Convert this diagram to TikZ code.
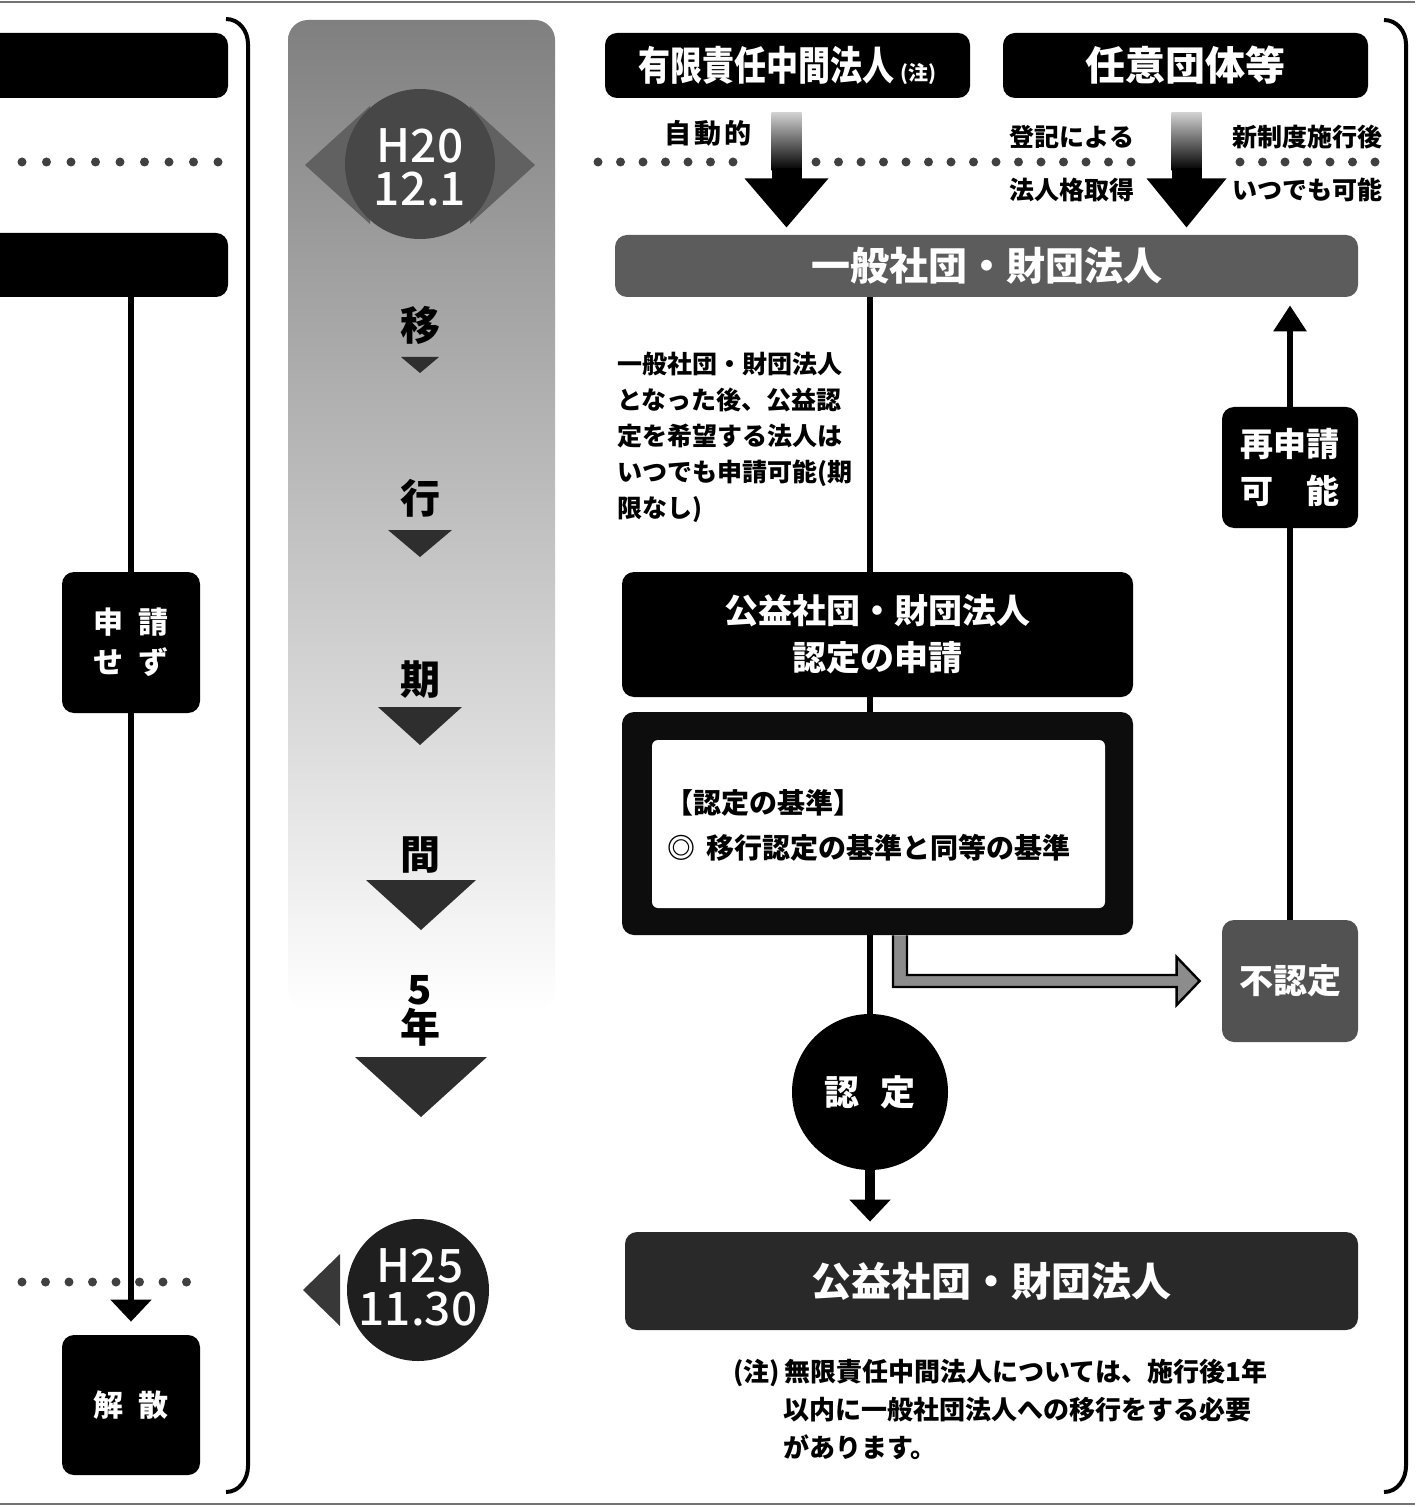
\documentclass[tikz,border=0pt]{standalone}
\usepackage{fontspec}
\usepackage{graphicx}
\setmainfont{Noto Sans CJK JP}
\newfontfamily\jpmed{Noto Sans CJK JP Medium}
\usetikzlibrary{arrows.meta,calc,backgrounds}
\begin{document}
\begin{tikzpicture}[x=0.5pt,y=-0.5pt,
  box/.style={rounded corners=6pt, inner sep=0pt, text=white, align=center},
  conn/.style={line width=3pt, black},
  dotc/.style={fill=black!75},
  lbl/.style={font=\bfseries\fontsize{12.5pt}{15pt}\selectfont, inner sep=0pt},
  midc/.style={font=\bfseries\fontsize{20pt}{22pt}\selectfont, inner sep=0pt},
  datec/.style={text=white, inner sep=0pt, font=\jpmed\fontsize{23pt}{23pt}\selectfont},
  tri/.style={fill=black!82},
  bracket/.style={line width=2pt, black},
]
\useasboundingbox (0,0) rectangle (1415,1507);

% ---------- left column ----------
\node[box, fill=black, minimum width=129pt, minimum height=32.5pt] (lb1) at (99,65.5) {};
\node[box, fill=black, minimum width=129pt, minimum height=32pt] (lb2) at (99,265) {};
\node[box, fill=black, minimum width=69pt, minimum height=70.5pt,
      font=\bfseries\fontsize{15pt}{20pt}\selectfont] (sezu) at (131,642.5) {申\hspace{0.5em}請\\せ\hspace{0.5em}ず};
\node[box, fill=black, minimum width=69pt, minimum height=70pt,
      font=\bfseries\fontsize{15pt}{20pt}\selectfont] (kaisan) at (131,1405) {解\hspace{0.5em}散};

% ---------- middle column ----------
\fill[black!62] (305,165) -- (370,106) -- (370,224) -- cycle;
\fill[black!62] (535,165) -- (470,106) -- (470,224) -- cycle;
\node[circle, fill=black!72, minimum size=75pt, inner sep=0pt] (h20) at (420,164) {};
\node[datec] (h20a) at (420,146) {H20};
\node[datec] (h20b) at (420,189) {12.1};

\node[midc] (m1) at (420,325) {移};
\fill[tri] (401,357) -- (439,357) -- (420,373) -- cycle;
\node[midc] (m2) at (420,498) {行};
\fill[tri] (388,530) -- (452,530) -- (420,557) -- cycle;
\node[midc] (m3) at (420,680) {期};
\fill[tri] (378,707) -- (462,707) -- (420,745) -- cycle;
\node[midc] (m4) at (420,855) {間};
\fill[tri] (366,880) -- (476,880) -- (421,930) -- cycle;
\node[midc] (m5) at (420,990) {5};
\node[midc] (m6) at (420,1027) {年};
\fill[tri] (355,1057) -- (487,1057) -- (421,1117) -- cycle;

\fill[black!78] (303,1290) -- (340,1254) -- (340,1326) -- cycle;
\node[circle, fill=black!88, minimum size=71pt, inner sep=0pt] (h25) at (418,1290) {};
\node[datec] (h25a) at (420,1266) {H25};
\node[datec] (h25b) at (418,1309) {11.30};

% ---------- right column ----------
\node[box, fill=black, minimum width=182.5pt, minimum height=32.5pt,
      font=\bfseries\fontsize{20pt}{22pt}\selectfont] (yugen) at (787.5,65.5)
      {\scalebox{0.8}[1]{有限責任中間法人}\,{\fontsize{10pt}{10pt}\selectfont (注)}};
\node[box, fill=black, minimum width=182.5pt, minimum height=32.5pt,
      font=\bfseries\fontsize{20pt}{22pt}\selectfont] (nini) at (1185.5,65.5) {任意団体等};

\node[lbl, anchor=east, font=\bfseries\fontsize{13.5pt}{15pt}\selectfont] (jido) at (752,133) {自\hspace{0.12em}動\hspace{0.12em}的};
\node[lbl] (toki) at (1072,137) {登記による};
\node[lbl] (hojin) at (1072,190) {法人格取得};
\node[lbl] (shin) at (1307,137) {新制度施行後};
\node[lbl] (itsu) at (1307,190) {いつでも可能};

\node[box, fill=black!64, minimum width=371.5pt, minimum height=31pt,
      font=\bfseries\fontsize{19.5pt}{22pt}\selectfont] (ippan) at (986.5,266) {一般社団・財団法人};

\node[anchor=north west, inner sep=0pt, align=left,
      font=\bfseries\fontsize{12.5pt}{18pt}\selectfont] (para) at (617,352)
      {一般社団・財団法人\\となった後、公益認\\定を希望する法人は\\いつでも申請可能(期\\限なし)};

\node[box, fill=black, minimum width=68pt, minimum height=60.5pt,
      font=\bfseries\fontsize{16.5pt}{23.5pt}\selectfont] (sai) at (1290,467.5)
      {再申請\\\makebox[3em][s]{可\hfil 能}};

\node[box, fill=black, minimum width=255.5pt, minimum height=62.5pt,
      font=\bfseries\fontsize{17pt}{23.5pt}\selectfont] (shinsei) at (877.5,634.5)
      {公益社団・財団法人\\認定の申請};

\node[box, fill=black!95, minimum width=255.5pt, minimum height=111.5pt] (kijun) at (877.5,823.5) {};
\node[rounded corners=3pt, fill=white, minimum width=226.5pt, minimum height=84pt, inner sep=0pt] (kijunin) at (878.5,824) {};
\node[anchor=west, inner sep=0pt, font=\bfseries\fontsize{14pt}{16pt}\selectfont] (kt1) at (665,803) {【認定の基準】};
\node[anchor=west, inner sep=0pt, font=\bfseries\fontsize{14pt}{16pt}\selectfont] (kt2) at (667,848) {◎\hspace{0.4em}移行認定の基準と同等の基準};

\node[box, fill=black!68, minimum width=68pt, minimum height=61pt,
      font=\bfseries\fontsize{17pt}{20pt}\selectfont] (funin) at (1290,981) {不認定};

\node[circle, fill=black, minimum size=78pt, inner sep=0pt, text=white,
      font=\bfseries\fontsize{17.5pt}{20pt}\selectfont] (nintei) at (870,1092) {認\hspace{0.6em}定};

\node[box, fill=black!84, minimum width=366.5pt, minimum height=49pt,
      font=\bfseries\fontsize{20pt}{22pt}\selectfont] (koeki) at (991.5,1281) {公益社団・財団法人};

\node[anchor=west, inner sep=0pt, font=\bfseries\fontsize{13pt}{16pt}\selectfont] (note1) at (733,1373) {(注)\,無限責任中間法人については、施行後1年};
\node[anchor=west, inner sep=0pt, font=\bfseries\fontsize{13pt}{16pt}\selectfont] (note2) at (783,1410) {以内に一般社団法人への移行をする必要};
\node[anchor=west, inner sep=0pt, font=\bfseries\fontsize{13pt}{16pt}\selectfont] (note3) at (783,1447) {があります。};

\coordinate (gx) at (900,0);

% ---------- background layer ----------
\begin{pgfonlayer}{background}
\fill[white] (0,0) rectangle (1415,1507);
\draw[black!55, line width=1pt] (0,2) -- (1415,2);
\draw[black!55, line width=1pt] (0,1504) -- (1415,1504);
\shade[top color=black!50, middle color=black!30, bottom color=white, rounded corners=10pt]
  (288,20) rectangle (555,1010);

% dotted lines
\foreach \x in {22,46.5,...,220} \fill[dotc] (\x,162) circle[radius=2.25pt];
\foreach \x in {22,45.5,...,190} \fill[dotc] (\x,1282) circle[radius=2.25pt];
\foreach \x in {598,620.5,...,735} \fill[dotc] (\x,162) circle[radius=2.25pt];
\foreach \x in {816,838.5,...,1145} \fill[dotc] (\x,162) circle[radius=2.25pt];
\foreach \x in {1240,1262.5,...,1382} \fill[dotc] (\x,162) circle[radius=2.25pt];

% brackets
\draw[bracket] (226,19) to[out=0,in=90] (248,44) -- (248,1466) to[out=-90,in=0] (226,1492);
\draw[bracket] (1384,20) to[out=0,in=90] (1406,44) -- (1406,1466) to[out=-90,in=0] (1384,1492);

% connectors
\draw[conn, -{Triangle[width=20pt,length=11pt]}, shorten >=6.5pt] (lb2.south -| sezu.center) -- (kaisan.north);
\draw[conn] (ippan.south -| nintei.center) -- (shinsei.north -| nintei.center);
\draw[conn] (shinsei.south -| nintei.center) -- (kijun.north -| nintei.center);
\draw[conn] (kijun.south -| nintei.center) -- (nintei.north);
\draw[conn, -{Triangle[width=16pt,length=13pt]}, shorten >=4pt] (funin.north) -- (ippan.south -| funin.center);
\draw[line width=5pt, -{Triangle[width=20pt,length=11pt]}, shorten >=5pt] (nintei.south) -- (koeki.north -| nintei.center);
\end{pgfonlayer}

% gray branch arrow to 不認定
\draw[black, line width=1.2pt, fill=black!45, line join=miter]
  ($(kijun.south -| gx)+(-7,0)$) -- ($(funin.west -| gx)+(-7,6)$) -- ($(funin.west)+(-45,6)$)
  -- ($(funin.west)+(-45,24)$) -- ($(funin.west)+(-22,0)$) -- ($(funin.west)+(-45,-24)$)
  -- ($(funin.west)+(-45,-6)$) -- ($(funin.west -| gx)+(7,-6)$) -- ($(kijun.south -| gx)+(7,0)$);

% gradient arrows from the top boxes
\shade[top color=black!18, bottom color=black] ($(yugen.south)+(-16,14)$) rectangle ($(yugen.south)+(14,72)$);
\fill[black] ($(yugen.south)+(-16,70)$) rectangle ($(yugen.south)+(14,82)$);
\fill[black] ($(yugen.south)+(-43,80)$) -- ($(yugen.south)+(41,80)$) -- ($(yugen.south)+(-1,129)$) -- cycle;
\shade[top color=black!18, bottom color=black] ($(nini.south)+(-14,14)$) rectangle ($(nini.south)+(16,72)$);
\fill[black] ($(nini.south)+(-14,70)$) rectangle ($(nini.south)+(16,82)$);
\fill[black] ($(nini.south)+(-39,80)$) -- ($(nini.south)+(41,80)$) -- ($(nini.south)+(1,129)$) -- cycle;
\end{tikzpicture}
\end{document}
